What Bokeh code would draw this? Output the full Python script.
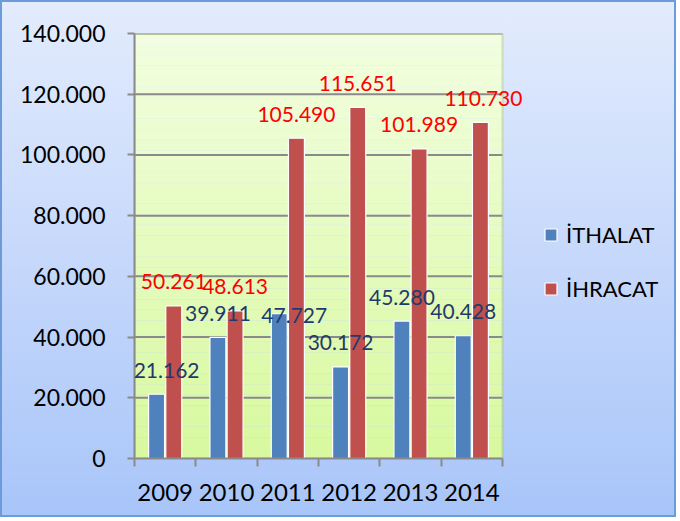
from bokeh.plotting import figure
from bokeh.models import (ColumnDataSource, FixedTicker, Legend, LegendItem,
                          BoxAnnotation, Range1d, LabelSet)
from bokeh.embed import file_html
from bokeh.resources import INLINE
from bokeh.core.properties import value

# ---------------- data ----------------
years = ["2009", "2010", "2011", "2012", "2013", "2014"]
ithalat = [21162, 39911, 47727, 30172, 45280, 40428]
ihracat = [50261, 48613, 105490, 115651, 101989, 110730]
series_names = ["İTHALAT", "İHRACAT"]
y_ticks = [0, 20000, 40000, 60000, 80000, 100000, 120000, 140000]
y_tick_labels = ["0", "20.000", "40.000", "60.000", "80.000", "100.000",
                 "120.000", "140.000"]

# ---------------- style ----------------
BLUE = "#4f81bd"
RED = "#c0504d"
NAVY = "#1f3b6b"
LABEL_RED = "#ff0000"
GRID = "#8a8a8a"
GREEN_BORDER = "#9bbb59"
FONT = "Lato"
BAR_W = 0.26
DODGE = 0.14
W, H = 676, 517
LEFT, TOP, BOTTOM, RIGHT = 134, 33, 59, 5
PLOT_PX = 368          # pixel width of the green plot area
# pixel nudges of individual data labels (Excel placement)
ith_dx = [10, 0, 15, 0, 0, 0]
ith_dy = [0, 0, -26, 0, 0, 0]
ihr_dx = [0, 0, 0, 0, 0, 3]
ihr_dy = [0, 0, 0, 0, 0, 0]


def fmt(v):
    return f"{v:,}".replace(",", ".")


n = len(years)
centers = [i + 0.5 for i in range(n)]
frame_px = W - LEFT - RIGHT
x_end = n * frame_px / PLOT_PX

src_i = ColumnDataSource(dict(x=[c - DODGE for c in centers], top=ithalat,
                              lab=[fmt(v) for v in ithalat],
                              dx=ith_dx, dy=[d + 24 for d in ith_dy]))
src_r = ColumnDataSource(dict(x=[c + DODGE for c in centers], top=ihracat,
                              lab=[fmt(v) for v in ihracat],
                              dx=ihr_dx, dy=[d + 24 for d in ihr_dy]))
src_g = ColumnDataSource(dict(y=y_ticks[1:], x0=[0] * (len(y_ticks) - 1),
                              x1=[n] * (len(y_ticks) - 1)))

p = figure(width=W, height=H, output_backend="svg", toolbar_location=None,
           x_range=Range1d(0, x_end), y_range=Range1d(y_ticks[0], y_ticks[-1]),
           min_border_left=LEFT, min_border_right=RIGHT, min_border_top=TOP,
           min_border_bottom=BOTTOM)

p.border_fill_color = None
p.background_fill_color = None
p.outline_line_color = None
p.styles = {"background": "linear-gradient(180deg, #e3ecfd 0%, #c9dafb 45%, #a8c5f9 100%)",
            "box-shadow": "inset 0 0 0 2px #6b9bd9"}

# plot-area gradient (decoration)
top_c = (0xf2, 0xfe, 0xe0)
bot_c = (0xd8, 0xf9, 0x9f)
steps = 40
span = y_ticks[-1] - y_ticks[0]
for k in range(steps):
    t = (k + 0.5) / steps
    col = "#%02x%02x%02x" % tuple(int(round(b + (a - b) * t)) for a, b in zip(top_c, bot_c))
    p.add_layout(BoxAnnotation(left=0, right=n,
                               bottom=y_ticks[0] + span * k / steps,
                               top=y_ticks[0] + span * (k + 1) / steps,
                               fill_color=col, fill_alpha=1, line_color=None,
                               level="image"))

# horizontal grid lines, limited to the plot area
p.segment(x0="x0", x1="x1", y0="y", y1="y", source=src_g, line_color=GRID,
          line_width=2, level="underlay")
p.xgrid.visible = False
p.ygrid.visible = False

# green plot-area border
p.add_layout(BoxAnnotation(left=0, right=n, bottom=y_ticks[0], top=y_ticks[-1],
                           fill_alpha=0, line_color=GREEN_BORDER, line_width=2.5,
                           level="underlay"))

r_i = p.vbar(x="x", top="top", width=BAR_W, source=src_i, fill_color=BLUE,
             line_color="white", line_width=1.2)
r_r = p.vbar(x="x", top="top", width=BAR_W, source=src_r, fill_color=RED,
             line_color="white", line_width=1.2)

p.add_layout(LabelSet(x="x", y="top", text="lab", source=src_i,
                      x_offset="dx", y_offset="dy", text_align="center",
                      text_baseline="middle", text_color=NAVY,
                      text_font=value(FONT), text_font_size="21px"))
p.add_layout(LabelSet(x="x", y="top", text="lab", source=src_r,
                      x_offset="dx", y_offset="dy", text_align="center",
                      text_baseline="middle", text_color=LABEL_RED,
                      text_font=value(FONT), text_font_size="21px"))

# axes
xa = p.xaxis[0]
xa.bounds = (0, n)
xa.ticker = FixedTicker(ticks=centers, minor_ticks=list(range(n + 1)))
xa.major_label_overrides = {c: y for c, y in zip(centers, years)}
xa.major_tick_out = 0
xa.major_tick_in = 0
xa.minor_tick_out = 8
xa.minor_tick_in = 0
xa.minor_tick_line_color = GRID
xa.minor_tick_line_width = 2
xa.axis_line_color = GRID
xa.axis_line_width = 2
xa.major_label_text_font = FONT
xa.major_label_text_font_size = "24px"
xa.major_label_text_color = "black"
xa.major_label_standoff = 17

ya = p.yaxis[0]
ya.ticker = FixedTicker(ticks=y_ticks, minor_ticks=[])
ya.major_label_overrides = {t: l for t, l in zip(y_ticks, y_tick_labels)}
ya.major_tick_out = 7
ya.major_tick_in = 0
ya.major_tick_line_color = GRID
ya.major_tick_line_width = 2
ya.axis_line_color = GRID
ya.axis_line_width = 2
ya.major_label_text_font = FONT
ya.major_label_text_font_size = "23px"
ya.major_label_text_color = "black"
ya.major_label_standoff = 22

legend = Legend(items=[LegendItem(label=series_names[0], renderers=[r_i]),
                       LegendItem(label=series_names[1], renderers=[r_r])],
                location=(409, 156), padding=0, margin=0, spacing=27,
                glyph_width=15, glyph_height=15, label_height=21,
                label_standoff=8, label_text_font=FONT,
                label_text_font_size="22px", label_text_color="black",
                border_line_color=None, background_fill_alpha=0)
p.add_layout(legend, "center")

open("out.html", "w").write(file_html(p, INLINE))
